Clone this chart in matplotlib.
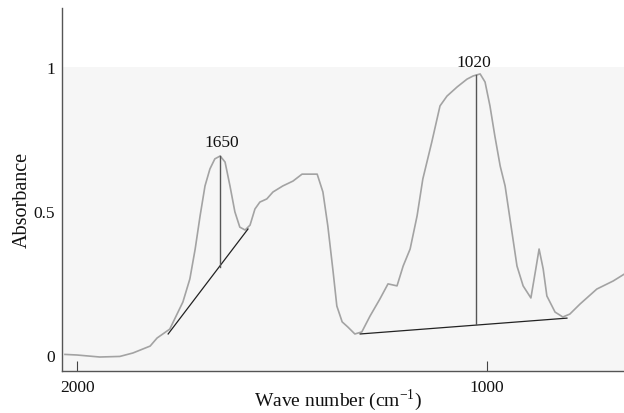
import matplotlib
matplotlib.use("Agg")
import matplotlib.pyplot as plt

plt.rcParams['font.family'] = ['Liberation Serif', 'DejaVu Serif']
plt.rcParams['mathtext.fontset'] = 'custom'
plt.rcParams['mathtext.rm'] = 'Liberation Serif'

# Spectrum (wave number in cm^-1, absorbance)
wavenumber = [2030, 2001, 1945, 1896, 1864, 1822, 1805, 1774, 1742, 1725, 1712,
              1700, 1688, 1676, 1664, 1651, 1639, 1627, 1615, 1603, 1590, 1578,
              1566, 1554, 1537, 1522, 1498, 1473, 1451, 1432, 1414, 1400, 1388,
              1375, 1366, 1353, 1339, 1322, 1305, 1285, 1261, 1241, 1219, 1204,
              1187, 1170, 1156, 1134, 1114, 1097, 1072, 1048, 1033, 1016, 1004,
              992, 980, 967, 955, 943, 926, 911, 892, 880, 872, 862, 853, 833,
              814, 797, 772, 731, 691, 665]
absorbance = [0.002, 0.0, -0.007, -0.005, 0.007, 0.031, 0.059, 0.090, 0.184,
              0.264, 0.368, 0.483, 0.587, 0.646, 0.681, 0.691, 0.670, 0.587,
              0.497, 0.444, 0.434, 0.451, 0.507, 0.531, 0.542, 0.566, 0.587,
              0.604, 0.628, 0.628, 0.628, 0.566, 0.448, 0.288, 0.170, 0.115,
              0.097, 0.073, 0.080, 0.135, 0.194, 0.247, 0.240, 0.309, 0.368,
              0.483, 0.611, 0.740, 0.865, 0.899, 0.931, 0.958, 0.969, 0.976,
              0.948, 0.865, 0.760, 0.656, 0.587, 0.472, 0.309, 0.240, 0.198,
              0.299, 0.368, 0.299, 0.205, 0.149, 0.132, 0.142, 0.177, 0.229,
              0.257, 0.280]

# Baselines and peak heights
base1650_x = [1778, 1583]
base1650_y = [0.073, 0.4375]
peak1650_x = [1652, 1652]
peak1650_y = [0.691, 0.306]
base1020_x = [1309, 804]
base1020_y = [0.073, 0.128]
peak1020_x = [1026, 1026]
peak1020_y = [0.972, 0.108]

peak_labels = ["1650", "1020"]
peak_label_x = [1648, 1031]
peak_label_y = [0.74, 1.018]

xticks = [2000, 1000]
yticks = [0, 0.5, 1]
ytick_labels = ["0", "0.5", "1"]

fig = plt.figure(figsize=(6.24, 4.14), dpi=100)
ax = fig.add_axes([0.0998, 0.1022, 0.9002, 0.8761])

ax.set_xlim(2036.6, 664.6)
ax.set_ylim(-0.0545, 1.205)

ax.axhspan(-0.0545, 1.0, color='#f6f6f6', zorder=0, lw=0)

ax.plot(wavenumber, absorbance, color='#a3a3a3', lw=1.2, zorder=3)
ax.plot(base1650_x, base1650_y, color='#222222', lw=0.9, zorder=4)
ax.plot(peak1650_x, peak1650_y, color='#555555', lw=1.0, zorder=4)
ax.plot(base1020_x, base1020_y, color='#222222', lw=0.9, zorder=4)
ax.plot(peak1020_x, peak1020_y, color='#555555', lw=1.0, zorder=4)

for lab, lx, ly in zip(peak_labels, peak_label_x, peak_label_y):
    ax.text(lx, ly, lab, ha='center', va='center', fontsize=12.5, color='#111111')

for s in ['top', 'right']:
    ax.spines[s].set_visible(False)
for s in ['left', 'bottom']:
    ax.spines[s].set_color('#555555')
    ax.spines[s].set_linewidth(1.0)

ax.set_xticks(xticks)
ax.set_xticklabels([str(t) for t in xticks])
ax.set_yticks(yticks)
ax.set_yticklabels(ytick_labels)
ax.tick_params(axis='x', direction='in', length=7, width=0.8, colors='#444444',
               labelcolor='#111111', labelsize=12.5, pad=6)
ax.tick_params(axis='y', length=0, labelcolor='#111111', labelsize=12.5, pad=5)

ax.set_xlabel('Wave number (cm$^{-1}$)', fontsize=14, color='#111111', va='center')
ax.set_ylabel('Absorbance', fontsize=14.5, color='#111111', va='center')
ax.xaxis.set_label_coords(0.491, -0.079)
ax.yaxis.set_label_coords(-0.072, 0.473)

fig.savefig('out.png', dpi=100, facecolor='white')
